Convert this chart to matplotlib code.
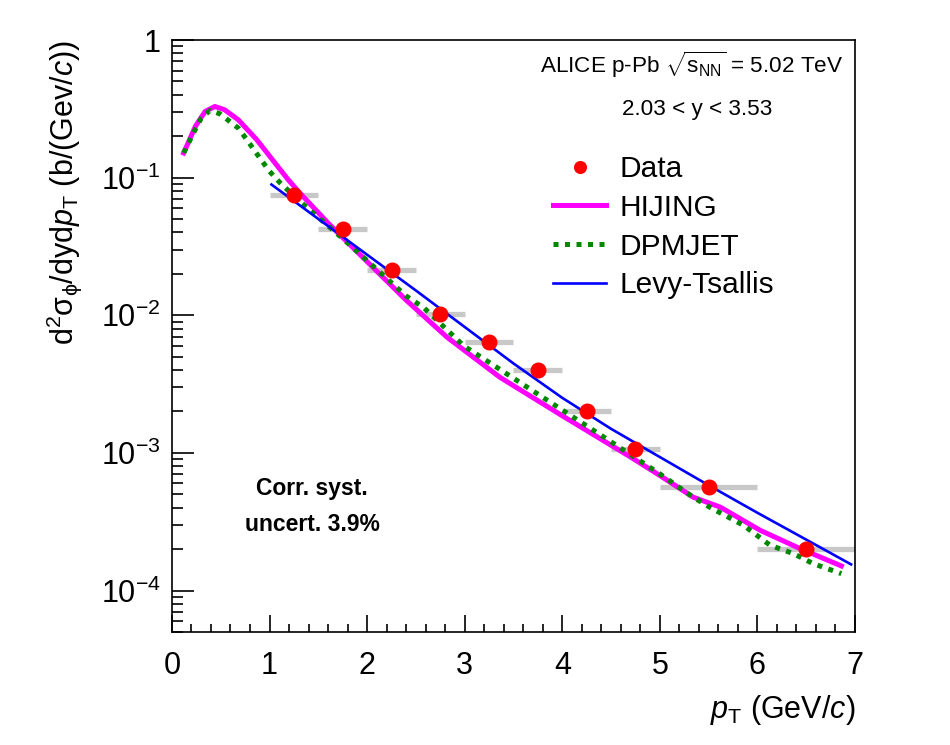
import numpy as np
import matplotlib
matplotlib.use("Agg")
import matplotlib.pyplot as plt
from matplotlib.ticker import FixedLocator, MultipleLocator, NullFormatter

plt.rcParams['font.family'] = ['Liberation Sans', 'DejaVu Sans']
plt.rcParams['mathtext.fontset'] = 'custom'
plt.rcParams['mathtext.rm'] = 'Liberation Sans'
plt.rcParams['mathtext.it'] = 'Liberation Sans:italic'
plt.rcParams['mathtext.bf'] = 'Liberation Sans:bold'

# data points (pT bin centres, bin edges, cross section)
pt_data = [1.25, 1.75, 2.25, 2.75, 3.25, 3.75, 4.25, 4.75, 5.5, 6.5]
pt_lo = [1.0, 1.5, 2.0, 2.5, 3.0, 3.5, 4.0, 4.5, 5.0, 6.0]
pt_hi = [1.5, 2.0, 2.5, 3.0, 3.5, 4.0, 4.5, 5.0, 6.0, 7.0]
xsec = [0.0753, 0.0426, 0.0214, 0.0102, 0.0064, 0.0040, 0.00203, 0.00106, 0.00057, 0.000201]

# HIJING (pT, log10 value)
hij_pt = [0.12, 0.24, 0.34, 0.44, 0.54, 0.68, 0.87, 1.07, 1.19, 1.31, 1.6, 2.0,
          2.4, 2.82, 3.36, 4.0, 4.7, 5.0, 5.34, 5.62, 6.03, 6.44, 6.86]
hij_log = [-0.821, -0.628, -0.519, -0.483, -0.507, -0.58, -0.725, -0.906, -1.014,
           -1.111, -1.33, -1.61, -1.89, -2.16, -2.45, -2.73, -3.03, -3.164, -3.321,
           -3.394, -3.563, -3.696, -3.821]

# DPMJET
dpm_pt = [0.12, 0.22, 0.30, 0.39, 0.49, 0.58, 0.68, 0.78, 0.90, 1.0, 1.11, 1.31,
          1.76, 2.1, 2.4, 2.58, 2.99, 3.67, 4.35, 5.0, 5.34, 5.51, 5.86, 6.13,
          6.37, 6.57, 6.86]
dpm_log = [-0.821, -0.676, -0.567, -0.512, -0.536, -0.585, -0.64, -0.737, -0.857,
           -0.954, -1.039, -1.172, -1.449, -1.667, -1.86, -1.944, -2.222, -2.536,
           -2.85, -3.152, -3.321, -3.394, -3.527, -3.671, -3.732, -3.804, -3.877]

# Levy-Tsallis fit
lt_pt = [1.02, 1.5, 2.0, 2.5, 3.0, 3.5, 4.0, 4.5, 5.0, 5.5, 6.0, 6.5, 6.96]
lt_log = [-1.05, -1.30, -1.56, -1.82, -2.085, -2.35, -2.60, -2.825, -3.03, -3.235,
          -3.435, -3.63, -3.81]

fig = plt.figure(figsize=(9.5, 7.45), dpi=100)
ax = fig.add_axes([0.181, 0.1517, 0.719, 0.7946])

# gray bin-width bars
ax.hlines(xsec, pt_lo, pt_hi, colors='#c8c8c8', linewidth=3.8, zorder=1)

ax.plot(hij_pt, 10 ** np.array(hij_log), color='#ff00ff', linewidth=3.6,
        label='HIJING', zorder=3, solid_joinstyle='round')
ax.plot(dpm_pt, 10 ** np.array(dpm_log), color='#008800', linewidth=3.6,
        linestyle=(0, (1.0, 1.3)), label='DPMJET', zorder=3)
ax.plot(lt_pt, 10 ** np.array(lt_log), color='#0000ff', linewidth=1.9,
        label='Levy-Tsallis', zorder=4)
ax.plot(pt_data, xsec, 'o', color='#ff0000', markersize=10.5, label='Data', zorder=5)

ax.set_yscale('log')
ax.set_xlim(0, 7)
ax.set_ylim(5e-5, 1)

ax.xaxis.set_major_locator(MultipleLocator(1))
ax.xaxis.set_minor_locator(MultipleLocator(0.2))
ax.yaxis.set_major_locator(FixedLocator([1e-4, 1e-3, 1e-2, 1e-1, 1]))
ax.yaxis.set_major_formatter(plt.FuncFormatter(
    lambda v, p: '1' if v >= 1 else r'$10^{%d}$' % round(np.log10(v))))
minors = [m * 10.0 ** e for e in range(-5, 0) for m in range(2, 10)]
ax.yaxis.set_minor_locator(FixedLocator(minors))
ax.yaxis.set_minor_formatter(NullFormatter())

ax.tick_params(which='both', direction='in', top=False, right=False,
               labelsize=22, width=1.2)
ax.tick_params(axis='x', which='major', length=12, pad=14)
ax.tick_params(axis='x', which='minor', length=6)
ax.tick_params(axis='y', which='major', length=16, pad=8)
ax.tick_params(axis='y', which='minor', length=8)
for s in ax.spines.values():
    s.set_linewidth(1.2)

ax.set_xlabel(r'$p_{\rm T}$ (GeV/$c$)', fontsize=22, loc='right', labelpad=8)
ax.set_ylabel(r'd$^{2}\mathrm{\sigma}_{\mathrm{\phi}}$/dyd$p_{\rm T}$ (b/(Gev/$c$))',
              fontsize=22, loc='top', labelpad=12)

ax.text(0.982, 0.958, r'ALICE p-Pb $\sqrt{\mathrm{s}_{\rm NN}}$ = 5.02 TeV',
        transform=ax.transAxes, ha='right', va='center', fontsize=16.2)
ax.text(0.769, 0.882, '2.03 < y < 3.53', transform=ax.transAxes,
        ha='center', va='center', fontsize=16.2)
ax.text(0.205, 0.243, 'Corr. syst.', transform=ax.transAxes, ha='center',
        va='center', fontsize=16.5, fontweight='bold')
ax.text(0.205, 0.181, 'uncert. 3.9%', transform=ax.transAxes, ha='center',
        va='center', fontsize=16.5, fontweight='bold')

h, l = ax.get_legend_handles_labels()
order = [3, 0, 1, 2]
ax.legend([h[i] for i in order], [l[i] for i in order], loc='upper left',
          bbox_to_anchor=(0.518, 0.851), frameon=False, fontsize=21.5,
          handlelength=1.8, labelspacing=0.36, handletextpad=0.45,
          markerscale=0.8)

fig.savefig('out.png', dpi=100)
